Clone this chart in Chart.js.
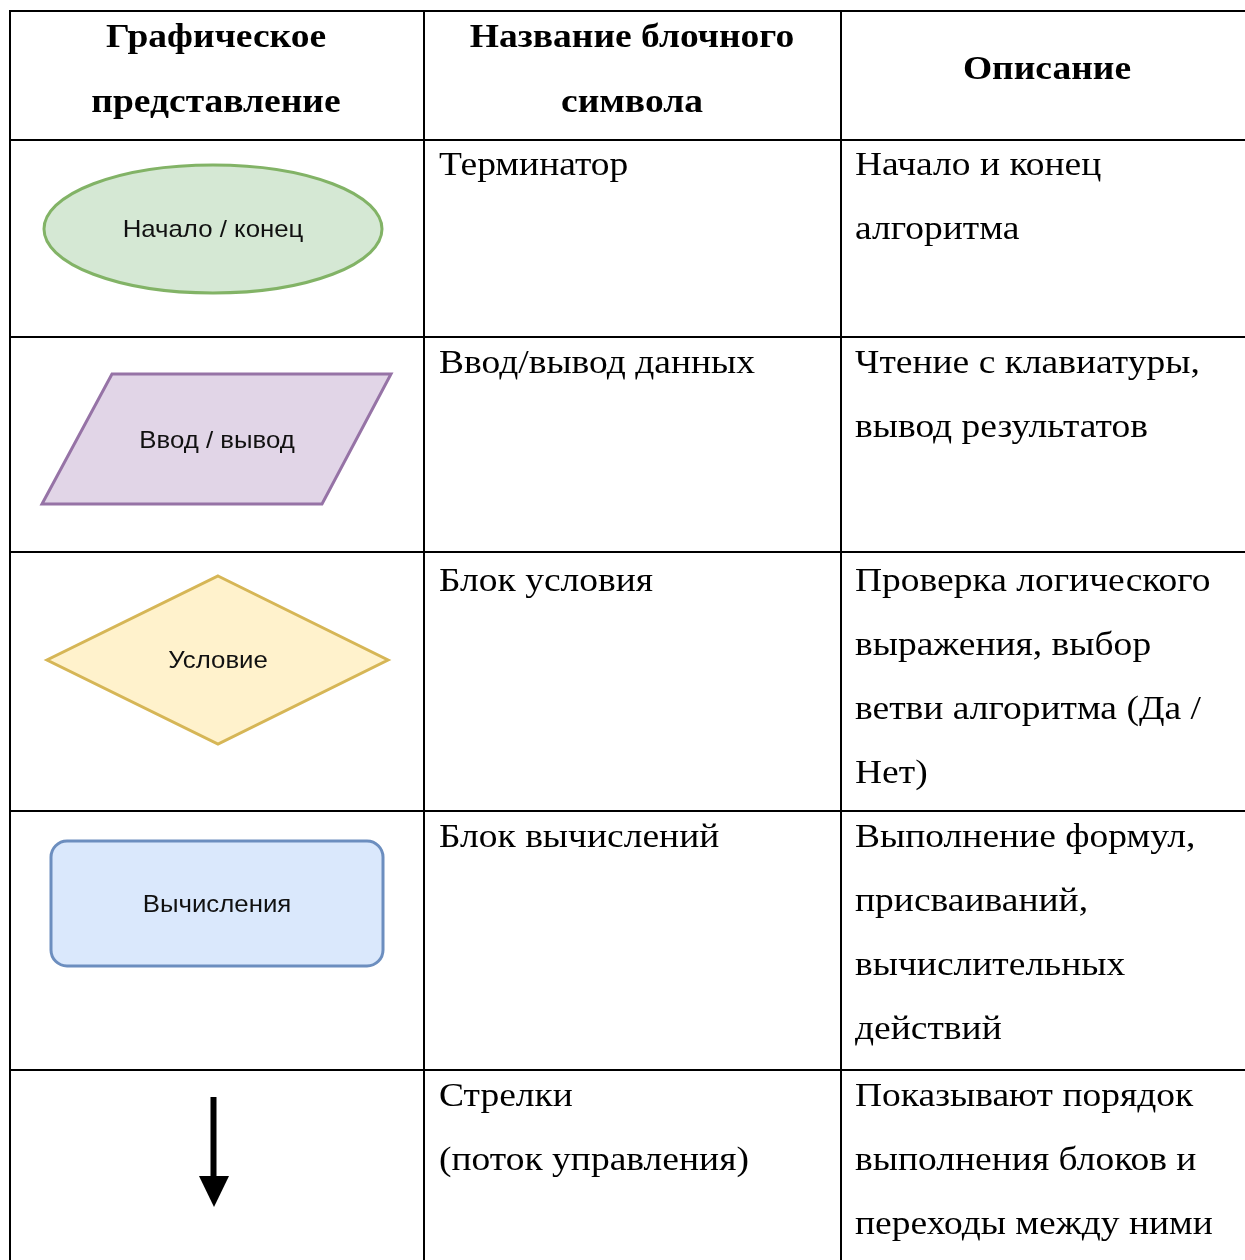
<!DOCTYPE html>
<html>
<head>
<meta charset="utf-8">
<script src="https://cdn.jsdelivr.net/npm/chart.js@4/dist/chart.umd.min.js"></script>
<style>
html,body{margin:0;padding:0;background:#fff;}
canvas{display:block;}
</style>
</head>
<body>
<canvas id="c" width="1245" height="1260"></canvas>
<script>
// ---- content ----
const headers = [['Графическое', 'представление'], ['Название блочного', 'символа'], ['Описание']];
const symbolKinds = ['terminator', 'io', 'decision', 'process', 'arrow'];
const symbolLabels = ['Начало / конец', 'Ввод / вывод', 'Условие', 'Вычисления', ''];
const blockNames = [['Терминатор'], ['Ввод/вывод данных'], ['Блок условия'], ['Блок вычислений'], ['Стрелки', '(поток управления)']];
const descriptions = [
  ['Начало и конец', 'алгоритма'],
  ['Чтение с клавиатуры,', 'вывод результатов'],
  ['Проверка логического', 'выражения, выбор', 'ветви алгоритма (Да /', 'Нет)'],
  ['Выполнение формул,', 'присваиваний,', 'вычислительных', 'действий'],
  ['Показывают порядок', 'выполнения блоков и', 'переходы между ними']
];

// ---- layout (page units) ----
const W = 1245, H = 1260;
const colX = [10, 424, 841];
const rowY = [11, 140, 337, 552, 811, 1070];
const firstBaseline = [175, 373, 591, 847, 1106];
const lineStep = 64;
const textX = [439, 855];
const headerCenters = [216, 632, 1047];
const headerBaselines = [[47, 112], [47, 112], [79]];
const serifStretch = 1.137;
const sansStretch = 1.075;
const symbolStyle = {
  terminator: {fill: '#d5e8d4', stroke: '#82b366', cx: 213, cy: 229, rx: 169, ry: 64, tx: 213, ty: 230},
  io: {fill: '#e1d5e7', stroke: '#9673a6', pts: [[112, 374], [391, 374], [322, 504], [42, 504]], tx: 217, ty: 441},
  decision: {fill: '#fff2cc', stroke: '#d6b656', pts: [[218, 576], [388, 660], [218, 744], [47, 660]], tx: 218, ty: 661},
  process: {fill: '#dae8fc', stroke: '#6c8ebf', x0: 51, x1: 383, y0: 841, y1: 966, r: 16, tx: 217, ty: 905},
  arrow: {x: 213.5, y0: 1097, y1: 1180, head: [[199, 1176], [229, 1176], [214, 1207]]}
};

// grid lines as datasets
const gridSets = [];
rowY.forEach(y => gridSets.push({data: [{x: colX[0] - 1, y: y}, {x: W, y: y}]}));
colX.forEach(x => gridSets.push({data: [{x: x, y: rowY[0] - 1}, {x: x, y: H}]}));
gridSets.forEach(d => Object.assign(d, {showLine: true, borderColor: '#000', borderWidth: 2, pointRadius: 0, fill: false, tension: 0}));

function stretchedText(ctx, t, x, y, align, s) {
  ctx.save();
  ctx.translate(x, y);
  ctx.scale(s, 1);
  ctx.textAlign = align;
  ctx.fillText(t, 0, 0);
  ctx.restore();
}

const tablePlugin = {
  id: 'tablePlugin',
  afterDatasetsDraw(chart) {
    const ctx = chart.ctx, sx = chart.scales.x, sy = chart.scales.y;
    const X = v => sx.getPixelForValue(v), Y = v => sy.getPixelForValue(v);
    ctx.save();
    ctx.fillStyle = '#000';
    ctx.textBaseline = 'alphabetic';
    ctx.font = 'bold 33px "Liberation Serif", "Times New Roman", serif';
    headers.forEach((lines, i) => lines.forEach((t, j) => stretchedText(ctx, t, X(headerCenters[i]), Y(headerBaselines[i][j]), 'center', serifStretch)));
    ctx.font = '33px "Liberation Serif", "Times New Roman", serif';
    blockNames.forEach((lines, r) => lines.forEach((t, j) => stretchedText(ctx, t, X(textX[0]), Y(firstBaseline[r] + j * lineStep), 'left', serifStretch)));
    descriptions.forEach((lines, r) => lines.forEach((t, j) => stretchedText(ctx, t, X(textX[1]), Y(firstBaseline[r] + j * lineStep), 'left', serifStretch)));
    symbolKinds.forEach((k, r) => {
      const s = symbolStyle[k];
      ctx.lineWidth = 3;
      ctx.lineJoin = 'miter';
      if (k === 'terminator') {
        ctx.beginPath();
        ctx.ellipse(X(s.cx), Y(s.cy), s.rx, s.ry, 0, 0, Math.PI * 2);
        ctx.fillStyle = s.fill; ctx.fill();
        ctx.strokeStyle = s.stroke; ctx.stroke();
      } else if (k === 'io' || k === 'decision') {
        ctx.beginPath();
        s.pts.forEach((p, i) => i ? ctx.lineTo(X(p[0]), Y(p[1])) : ctx.moveTo(X(p[0]), Y(p[1])));
        ctx.closePath();
        ctx.fillStyle = s.fill; ctx.fill();
        ctx.strokeStyle = s.stroke; ctx.stroke();
      } else if (k === 'process') {
        ctx.beginPath();
        ctx.roundRect(X(s.x0), Y(s.y0), X(s.x1) - X(s.x0), Y(s.y1) - Y(s.y0), s.r);
        ctx.fillStyle = s.fill; ctx.fill();
        ctx.strokeStyle = s.stroke; ctx.stroke();
      } else if (k === 'arrow') {
        ctx.beginPath();
        ctx.moveTo(X(s.x), Y(s.y0)); ctx.lineTo(X(s.x), Y(s.y1));
        ctx.lineWidth = 6; ctx.strokeStyle = '#000'; ctx.stroke();
        ctx.beginPath();
        s.head.forEach((p, i) => i ? ctx.lineTo(X(p[0]), Y(p[1])) : ctx.moveTo(X(p[0]), Y(p[1])));
        ctx.closePath(); ctx.fillStyle = '#000'; ctx.fill();
      }
      if (symbolLabels[r]) {
        ctx.fillStyle = '#111';
        ctx.textBaseline = 'middle';
        ctx.font = '24px "Liberation Sans", Arial, sans-serif';
        stretchedText(ctx, symbolLabels[r], X(s.tx), Y(s.ty), 'center', sansStretch);
        ctx.textBaseline = 'alphabetic';
        ctx.fillStyle = '#000';
      }
    });
    ctx.restore();
  }
};

new Chart(document.getElementById('c'), {
  type: 'scatter',
  data: {datasets: gridSets},
  options: {
    responsive: false,
    animation: false,
    devicePixelRatio: 1,
    layout: {padding: 0},
    plugins: {legend: {display: false}, tooltip: {enabled: false}, title: {display: false}},
    scales: {
      x: {type: 'linear', min: 0, max: W, display: false},
      y: {type: 'linear', min: 0, max: H, reverse: true, display: false}
    },
    elements: {line: {borderCapStyle: 'butt'}}
  },
  plugins: [tablePlugin]
});
</script>
</body>
</html>
